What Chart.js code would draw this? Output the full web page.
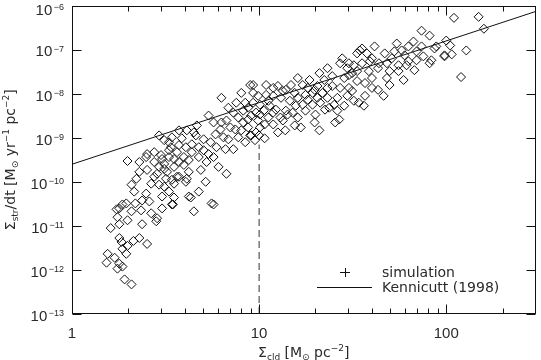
<!DOCTYPE html>
<html>
<head>
<meta charset="utf-8">
<script src="https://cdn.jsdelivr.net/npm/chart.js@4.4.0/dist/chart.umd.min.js"></script>
<style>
  html, body { margin: 0; padding: 0; background: #fff; }
  canvas { display: block; }
</style>
</head>
<body>
<canvas id="sfChart" width="541" height="360"></canvas>
<script>
// Sigma_cld [Msun pc^-2] of each simulated cloud
const cloudDensity = [
  1.98, 2.21, 2.08, 2.49, 2.37, 2.18, 1.86, 1.79, 1.95, 1.73,
  2.08, 2.34, 2.65, 2.85, 2.82, 3.03, 3.42, 3.51, 1.75, 1.98,
  1.79, 1.61, 2.37, 1.79, 1.84, 2.29, 2.13, 1.98, 2.52, 1.86,
  1.55, 1.69, 1.95, 1.53, 1.79, 1.86, 1.75, 1.91, 2.08,
  2.52, 2.75, 2.99, 3.38, 3.73, 2.75, 3.11, 3.51, 3.96, 2.52,
  2.85, 3.22, 3.64, 4.11, 2.65, 2.92, 3.51, 4.21, 3.30, 2.92,
  3.42, 3.86, 2.49, 2.29, 4.76, 4.48, 5.57,
  6.29, 8.96, 8.03, 6.85, 8.43, 9.07, 5.37, 5.71, 4.65, 4.48,
  3.11, 6.85, 7.74, 6.61, 7.28, 5.24, 4.76, 4.37, 6.07, 6.69,
  4.88, 4.21, 3.73, 3.42, 3.18, 4.31, 3.46, 5.71, 7.46, 8.23,
  8.74, 9.07, 8.43, 7.02, 6.22, 5.85, 5.05, 4.37, 4.06, 3.64,
  3.30, 3.03, 3.73, 4.21, 5.37, 5.92, 3.51, 3.11, 4.06, 5.18,
  6.29, 4.59,
  27.1, 29.6, 28.5, 24.6, 22.3, 18.6, 17.1, 20.5, 12.6, 13.9,
  15.5, 17.7, 21.8, 24.6, 27.1, 29.6, 28.5, 25.2, 23.7, 26.2,
  26.8, 25.5, 22.5, 21.2, 19.3, 17.1, 15.7, 14.6, 13.1, 11.9,
  10.9, 9.88, 10.1, 11.4, 12.3, 13.9, 17.7, 20.0, 19.8, 21.0,
  16.7, 15.5, 16.1, 13.4, 11.9, 13.8, 12.6, 10.7, 9.88, 9.63,
  10.7, 9.51, 9.29, 9.29,
  73.8, 81.5, 66.8, 54.4, 62.8, 73.8, 86.6, 41.4, 35.5, 33.4,
  37.7, 46.9, 52.8, 59.9, 75.5, 83.3, 97.9, 81.5, 62.8, 55.6,
  48.2, 43.7, 39.1, 35.5, 32.1, 30.2, 33.4, 38.6, 43.2, 49.8,
  55.6, 67.6, 30.2, 33.4, 36.8, 40.1, 48.2, 59.2, 49.8, 30.2,
  43.2, 46.3, 36.8, 32.1, 34.1, 36.3, 110, 149, 159, 100,
  105, 88.5, 97.9, 107, 128, 120, 34.5, 8.96, 10.0,
  7.28, 7.74, 6.69, 8.23, 8.74, 7.55, 9.29, 9.63, 10.1, 10.6,
  11.2, 11.9, 13.0, 14.2, 15.1, 16.1, 18.2, 19.3, 20.5, 23.2,
  23.2, 19.8, 18.2, 14.8, 13.4, 11.2, 10.1, 8.74, 8.03, 6.45,
  5.50, 4.76, 5.05, 5.71, 3.96, 3.30, 2.92, 2.75, 3.11, 3.30,
  3.73, 4.11, 2.29, 2.15, 2.59, 3.03, 31.4, 27.8, 40.1, 51.2,
  57.8, 69.4, 23.2, 21.0, 16.1, 11.9, 10.9, 26.2, 31.4, 40.1,
  61.4, 69.4
];

// d Sigma_str / dt [Msun yr^-1 pc^-2], same order as cloudDensity
const starFormation = [
  2.96e-10, 1.17e-10, 8.6e-11, 5.4e-11, 3.77e-11, 3.23e-11, 3.06e-11, 2.49e-11, 3.23e-11, 2.37e-11,
  2.14e-11, 2.25e-11, 1.93e-11, 1.49e-11, 1.27e-11, 2.49e-11, 3.06e-11, 4.39e-11, 1.57e-11, 1.34e-11,
  1.09e-11, 8.9e-12, 1.09e-11, 5.3e-12, 4.32e-12, 5.3e-12, 4.55e-12, 3.51e-12, 3.89e-12, 3.01e-12,
  2.32e-12, 1.89e-12, 2.32e-12, 1.46e-12, 1.39e-12, 1.19e-12, 1.07e-12, 6.1e-13, 4.7e-13,
  4.25e-10, 4.7e-10, 4.04e-10, 6.1e-10, 6.8e-10, 2.81e-10, 2.54e-10, 3.29e-10, 3.64e-10, 1.86e-10,
  1.52e-10, 1.68e-10, 1.30e-10, 1.17e-10, 9.05e-11, 8.6e-11, 9.05e-11, 4.63e-11, 5.99e-11, 1.13e-9,
  1.02e-9, 9.7e-10, 3.64e-10, 2.81e-10, 5.99e-11, 2.14e-11, 3.23e-11,
  8.04e-9, 1.57e-8, 1.04e-8, 4.80e-9, 6.22e-9, 3.18e-9, 3.18e-9, 2.22e-9, 1.90e-9, 1.32e-9,
  8.8e-10, 9.2e-10, 1.02e-9, 5.5e-10, 5.5e-10, 2.81e-10, 3.64e-10, 4.7e-10, 2.18e-10, 1.52e-10,
  1.86e-10, 1.68e-10, 1.30e-10, 1.11e-10, 1.17e-10, 4.39e-11, 3.06e-11, 3.06e-11, 1.54e-9, 2.22e-9,
  1.71e-9, 1.13e-9, 7.9e-10, 1.71e-9, 1.54e-9, 1.19e-9, 9.2e-10, 7.1e-10, 6.1e-10, 4.7e-10,
  3.64e-10, 3.29e-10, 2.81e-10, 3.12e-10, 4.25e-10, 6.1e-10, 2.18e-10, 1.96e-10, 1.00e-10, 1.00e-10,
  2.22e-9, 1.13e-9,
  4.89e-8, 3.78e-8, 2.26e-8, 2.50e-8, 2.04e-8, 2.04e-8, 1.57e-8, 1.49e-8, 1.49e-8, 1.22e-8,
  1.04e-8, 9.39e-9, 1.04e-8, 1.49e-8, 1.35e-8, 8.92e-9, 5.32e-9, 5.61e-9, 4.80e-9, 4.11e-9,
  2.59e-9, 2.22e-9, 4.33e-9, 6.22e-9, 5.61e-9, 5.61e-9, 5.32e-9, 6.89e-9, 8.04e-9, 8.92e-9,
  9.39e-9, 8.92e-9, 5.61e-9, 5.32e-9, 4.33e-9, 4.11e-9, 4.11e-9, 3.35e-9, 2.22e-9, 1.47e-9,
  1.71e-9, 1.90e-9, 2.87e-9, 2.46e-9, 2.00e-9, 1.47e-9, 1.32e-9, 2.00e-9, 2.46e-9, 1.32e-9,
  9.7e-10, 8.8e-10, 1.57e-8, 1.04e-8,
  2.68e-7, 2.07e-7, 1.52e-7, 1.37e-7, 1.18e-7, 1.18e-7, 1.06e-7, 1.18e-7, 1.06e-7, 8.19e-8,
  8.19e-8, 8.19e-8, 9.08e-8, 7.39e-8, 7.02e-8, 5.71e-8, 7.39e-8, 4.89e-8, 5.42e-8, 4.41e-8,
  4.89e-8, 4.89e-8, 5.42e-8, 4.89e-8, 4.41e-8, 4.89e-8, 3.24e-8, 3.24e-8, 3.78e-8, 3.24e-8,
  3.24e-8, 3.41e-8, 2.63e-8, 1.93e-8, 1.74e-8, 2.26e-8, 2.26e-8, 2.04e-8, 1.57e-8, 1.35e-8,
  1.22e-8, 8.92e-9, 8.92e-9, 6.89e-9, 6.22e-9, 5.32e-9, 5.25e-7, 5.53e-7, 2.97e-7, 1.60e-7,
  1.24e-7, 1.18e-7, 7.02e-8, 7.78e-8, 9.56e-8, 2.38e-8, 9.56e-8, 1.13e-9, 1.13e-9,
  3.71e-9, 2.87e-9, 2.46e-9, 4.11e-9, 4.80e-9, 6.22e-9, 6.22e-9, 3.71e-9, 3.35e-9, 4.11e-9,
  2.87e-9, 3.71e-9, 2.87e-9, 3.35e-9, 3.71e-9, 8.04e-9, 7.26e-9, 1.04e-8, 8.04e-9, 8.04e-9,
  1.35e-8, 1.22e-8, 1.35e-8, 1.57e-8, 1.15e-8, 6.89e-9, 1.71e-9, 2.59e-9, 1.47e-9, 1.02e-9,
  7.9e-10, 6.1e-10, 5.2e-10, 3.64e-10, 2.41e-10, 5.2e-10, 2.18e-10, 1.30e-10, 7.75e-11, 7.9e-10,
  1.47e-9, 1.47e-9, 1.68e-10, 5.99e-11, 3.58e-11, 4.63e-11, 2.92e-8, 6.33e-8, 6.33e-8, 6.33e-8,
  9.56e-8, 9.08e-8, 3.78e-8, 2.92e-8, 2.26e-8, 1.35e-8, 1.57e-8, 8.04e-9, 1.15e-8, 1.35e-8,
  4.41e-8, 5.71e-8
];

// Kennicutt (1998) relation, end points across the plot
const kennicuttX = [1, 300];
const kennicuttY = [2.5e-10, 7.3e-7];

// dashed marker at Sigma_cld = 10
const thresholdX = [10, 10];
const thresholdY = [1e-13, 7e-10];

// axis ticks
const xMajorTicks = [1, 10, 100];
const xTickLabels = ['1', '10', '100'];
const xMinorTicks = [2, 3, 4, 5, 6, 7, 8, 9, 20, 30, 40, 50, 60, 70, 80, 90, 200];
const yMajorTicks = [1e-13, 1e-12, 1e-11, 1e-10, 1e-9, 1e-8, 1e-7, 1e-6];
const yTickExponents = ['−13', '−12', '−11', '−10', '−9', '−8', '−7', '−6'];

const ink = '#111';
const textInk = '#2a2a2a';
const tickFont = '15px "Liberation Sans", Arial, sans-serif';
const expFont = '9px "Liberation Sans", Arial, sans-serif';
const textFont = '14px "DejaVu Sans", sans-serif';
const smallFont = '9px "DejaVu Sans", sans-serif';

// draws a run of text pieces: s = 0 normal, 1 subscript, 2 superscript
function drawRich(ctx, parts, cx, baseY) {
    const fontOf = p => p.s ? smallFont : textFont;
    let w = 0;
    parts.forEach(p => { ctx.font = fontOf(p); w += ctx.measureText(p.t).width; });
    let x = cx - w / 2;
    ctx.textAlign = 'left';
    ctx.textBaseline = 'alphabetic';
    parts.forEach(p => {
        ctx.font = fontOf(p);
        const dy = p.s === 1 ? 3 : (p.s === 2 ? -6 : 0);
        ctx.fillText(p.t, x, baseY + dy);
        x += ctx.measureText(p.t).width;
    });
}

const framePlugin = {
    id: 'idlFrame',
    afterDatasetsDraw(chart) {
        const { ctx, chartArea: a, scales: { x, y } } = chart;
        const L = Math.round(a.left) + 0.5, R = Math.round(a.right) - 0.5;
        const T = Math.round(a.top) + 0.5, B = Math.round(a.bottom) - 0.5;
        ctx.save();
        ctx.strokeStyle = ink;
        ctx.lineWidth = 1;
        ctx.strokeRect(L, T, R - L, B - T);

        // inward ticks, IDL style
        ctx.beginPath();
        xMajorTicks.forEach(v => {
            const px = Math.round(x.getPixelForValue(v)) + 0.5;
            ctx.moveTo(px, B); ctx.lineTo(px, B - 9);
            ctx.moveTo(px, T); ctx.lineTo(px, T + 9);
        });
        xMinorTicks.forEach(v => {
            const px = Math.round(x.getPixelForValue(v)) + 0.5;
            ctx.moveTo(px, B); ctx.lineTo(px, B - 5);
            ctx.moveTo(px, T); ctx.lineTo(px, T + 5);
        });
        yMajorTicks.forEach(v => {
            const py = Math.round(y.getPixelForValue(v)) + 0.5;
            ctx.moveTo(L, py); ctx.lineTo(L + 9, py);
            ctx.moveTo(R, py); ctx.lineTo(R - 9, py);
        });
        ctx.stroke();

        ctx.fillStyle = textInk;

        // x tick labels
        ctx.font = tickFont;
        ctx.textAlign = 'center';
        ctx.textBaseline = 'alphabetic';
        xMajorTicks.forEach((v, i) => {
            ctx.fillText(xTickLabels[i], x.getPixelForValue(v), 338);
        });

        // y tick labels: 10 with raised exponent
        yMajorTicks.forEach((v, i) => {
            const mid = Math.max(y.getPixelForValue(v) + 1.5, 9.5);
            const right = a.left - 8;
            ctx.font = expFont;
            ctx.textAlign = 'right';
            const ew = ctx.measureText(yTickExponents[i]).width;
            ctx.fillText(yTickExponents[i], right, mid + 0.5);
            ctx.font = tickFont;
            ctx.fillText('10', right - ew - 1.5, mid + 5.4);
        });

        // axis titles
        drawRich(ctx, [
            { t: 'Σ', s: 0 }, { t: 'cld', s: 1 }, { t: ' [M', s: 0 }, { t: '⊙', s: 1 },
            { t: ' pc', s: 0 }, { t: '−2', s: 2 }, { t: ']', s: 0 }
        ], (a.left + a.right) / 2, 357);

        ctx.save();
        ctx.translate(15, (a.top + a.bottom) / 2);
        ctx.rotate(-Math.PI / 2);
        drawRich(ctx, [
            { t: 'Σ', s: 0 }, { t: 'str', s: 1 }, { t: '/dt [M', s: 0 }, { t: '⊙', s: 1 },
            { t: ' yr', s: 0 }, { t: '−1', s: 2 }, { t: ' pc', s: 0 }, { t: '−2', s: 2 }, { t: ']', s: 0 }
        ], 0, 0);
        ctx.restore();

        // legend, bottom right inside the box
        const sim = chart.data.datasets[0];
        const ken = chart.data.datasets[1];
        ctx.beginPath();
        ctx.moveTo(340, 272.5); ctx.lineTo(350, 272.5);
        ctx.moveTo(345.5, 268); ctx.lineTo(345.5, 277);
        ctx.moveTo(317, 287.5); ctx.lineTo(372, 287.5);
        ctx.stroke();
        ctx.font = textFont;
        ctx.textAlign = 'left';
        ctx.fillText(sim.label, 382, 277);
        ctx.fillText(ken.label, 382, 292);
        ctx.restore();
    }
};

const toPoints = (xs, ys) => xs.map((v, i) => ({ x: v, y: ys[i] }));

new Chart(document.getElementById('sfChart'), {
    type: 'scatter',
    data: {
        datasets: [
            {
                label: 'simulation',
                data: toPoints(cloudDensity, starFormation),
                pointStyle: 'rectRot',
                pointRadius: 4.5,
                pointBorderWidth: 1,
                pointBorderColor: ink,
                pointBackgroundColor: 'rgba(0,0,0,0)'
            },
            {
                label: 'Kennicutt (1998)',
                data: toPoints(kennicuttX, kennicuttY),
                showLine: true,
                borderColor: ink,
                borderWidth: 1,
                pointRadius: 0
            },
            {
                label: 'threshold',
                data: toPoints(thresholdX, thresholdY),
                showLine: true,
                borderColor: '#333',
                borderWidth: 1,
                borderDash: [7, 4],
                pointRadius: 0
            }
        ]
    },
    options: {
        responsive: false,
        animation: false,
        devicePixelRatio: 1,
        layout: { padding: { left: 72, right: 1, top: 1, bottom: 46 } },
        scales: {
            x: { type: 'logarithmic', min: 1, max: 300, display: false },
            y: { type: 'logarithmic', min: 1e-13, max: 1e-6, display: false }
        },
        plugins: {
            legend: { display: false },
            tooltip: { enabled: false }
        }
    },
    plugins: [framePlugin]
});
</script>
</body>
</html>
